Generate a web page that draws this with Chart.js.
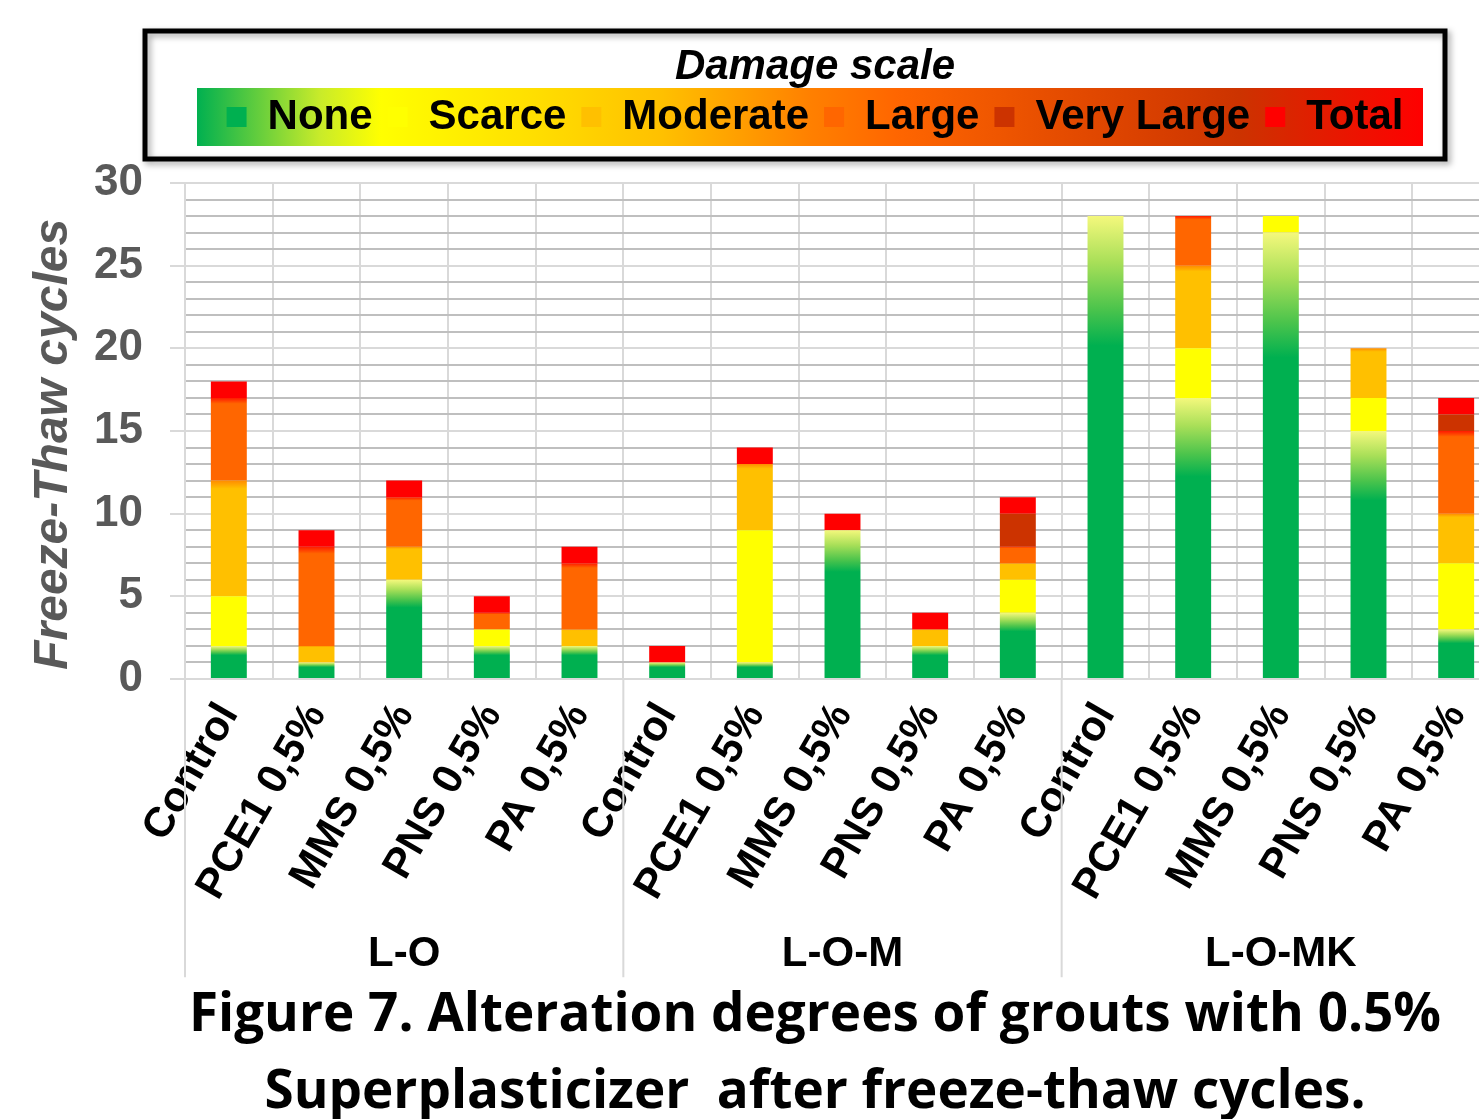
<!DOCTYPE html>
<html>
<head>
<meta charset="utf-8">
<script src="https://cdn.jsdelivr.net/npm/chart.js@4.4.1/dist/chart.umd.min.js"></script>
<style>
  html, body { margin: 0; padding: 0; background: #fff; overflow: hidden; }
  #wrap { position: relative; width: 1630px; height: 1130px; }
</style>
</head>
<body>
<div id="wrap"><canvas id="chart" width="1630" height="1130"></canvas></div>
<script>
// categories (5 grouts per mortar family)
const categories = [
  "Control", "PCE1 0,5%", "MMS 0,5%", "PNS 0,5%", "PA 0,5%",
  "Control", "PCE1 0,5%", "MMS 0,5%", "PNS 0,5%", "PA 0,5%",
  "Control", "PCE1 0,5%", "MMS 0,5%", "PNS 0,5%", "PA 0,5%"
];
const groups = ["L-O", "L-O-M", "L-O-MK"];
const yTicks = [0, 5, 10, 15, 20, 25, 30];

// cycles spent in each damage degree (stacked bottom -> top)
const none      = [2, 1, 6, 2, 2,  1, 1, 9, 2, 4,  28, 17, 27, 15, 3];
const scarce    = [3, 0, 0, 1, 0,  0, 8, 0, 0, 2,  0, 3, 1, 2, 4];
const moderate  = [7, 1, 2, 0, 1,  0, 4, 0, 1, 1,  0, 5, 0, 3, 3];
const large     = [5, 6, 3, 1, 4,  0, 0, 0, 0, 1,  0, 3, 0, 0, 5];
const veryLarge = [0, 0, 0, 0, 0,  0, 0, 0, 0, 2,  0, 0, 0, 0, 1];
const total     = [1, 1, 1, 1, 1,  1, 1, 1, 1, 1,  0, 0, 0, 0, 1];

const seriesNames = ["None", "Scarce", "Moderate", "Large", "Very Large", "Total"];
const seriesValues = [none, scarce, moderate, large, veryLarge, total];
const seriesColors = ["#00B050", "#FFFF00", "#FFC000", "#FF6600", "#CC3300", "#FF0000"];
// gradient inside each stacked piece, from its bottom (0) to its top (1)
const seriesStops = [
  [[0, "#00B050"], [0.72, "#00B050"], [0.8, "#4cc44c"], [0.9, "#a8df58"], [1, "#f4f87c"]],
  [[0, "#FFFF00"], [1, "#FFFF00"]],
  [[0, "#FFC000"], [0.93, "#FFC000"], [1, "#FF8C00"]],
  [[0, "#FF6600"], [0.93, "#FF6600"], [1, "#FF1A00"]],
  [[0, "#CC3300"], [1, "#CC3300"]],
  [[0, "#FF0000"], [1, "#FF0000"]]
];

Chart.defaults.font.family = '"Liberation Sans", Arial, sans-serif';

// builds a vertical gradient fitted to one stacked piece
const pieceFill = (k) => (ctx) => {
  const chart = ctx.chart;
  const yScale = chart.scales.y;
  if (!chart.chartArea || !yScale || ctx.type !== "data") return seriesColors[k];
  const i = ctx.dataIndex;
  let base = 0;
  for (let j = 0; j < k; j++) base += seriesValues[j][i];
  const top = base + seriesValues[k][i];
  const y0 = yScale.getPixelForValue(base);
  const y1 = yScale.getPixelForValue(top);
  if (Math.abs(y0 - y1) < 0.5) return seriesColors[k];
  const g = chart.ctx.createLinearGradient(0, y0, 0, y1);
  seriesStops[k].forEach(([t, c]) => g.addColorStop(t, c));
  return g;
};

// framed "Damage scale" box with the coloured band behind the legend
const legendFrame = {
  id: "legendFrame",
  beforeDraw(chart) {
    const c = chart.ctx;
    c.save();
    c.shadowColor = "rgba(0,0,0,0.35)";
    c.shadowBlur = 6;
    c.shadowOffsetX = 3;
    c.shadowOffsetY = 3;
    c.lineWidth = 5;
    c.strokeStyle = "#000";
    c.strokeRect(145, 31, 1300, 128);
    c.restore();
    const g = c.createLinearGradient(197, 0, 1423, 0);
    g.addColorStop(0, "#00b050");
    g.addColorStop(0.10, "#c8eb2a");
    g.addColorStop(0.15, "#ffff00");
    g.addColorStop(0.27, "#ffe000");
    g.addColorStop(0.38, "#ffc000");
    g.addColorStop(0.50, "#ff8000");
    g.addColorStop(0.57, "#ff6600");
    g.addColorStop(0.70, "#e64d00");
    g.addColorStop(0.85, "#cc3300");
    g.addColorStop(1, "#ff0000");
    c.fillStyle = g;
    c.fillRect(197, 88, 1226, 58);
  }
};

// vertical separators between the mortar groups on the category axis
const groupLines = {
  id: "groupLines",
  afterDraw(chart) {
    const x = chart.scales.x, x2 = chart.scales.x2;
    const per = categories.length / groups.length;
    const c = chart.ctx;
    c.save();
    c.strokeStyle = "#d9d9d9";
    c.lineWidth = 2;
    for (let g = 0; g <= groups.length; g++) {
      const idx = g * per;
      let px;
      if (idx === 0) px = x.left;
      else if (idx >= categories.length) px = x.right;
      else px = (x.getPixelForTick(idx - 1) + x.getPixelForTick(idx)) / 2;
      c.beginPath();
      c.moveTo(px, x.top);
      c.lineTo(px, x2.bottom + 5);
      c.stroke();
    }
    c.restore();
  }
};

new Chart(document.getElementById("chart"), {
  type: "bar",
  data: {
    labels: categories,
    datasets: seriesNames.map((name, k) => ({
      label: name,
      data: seriesValues[k],
      backgroundColor: pieceFill(k),
      borderWidth: 0,
      xAxisID: "x",
      yAxisID: "y",
      barPercentage: 0.41,
      categoryPercentage: 1
    }))
  },
  options: {
    responsive: false,
    animation: false,
    plugins: {
      tooltip: { enabled: false },
      legend: {
        position: "top",
        weight: 3000,
        labels: {
          boxWidth: 20,
          boxHeight: 20,
          padding: 15,
          color: "#000",
          font: { size: 42, weight: "bold" },
          generateLabels: () => seriesNames.map((name, k) => ({
            text: name,
            fillStyle: seriesColors[k],
            strokeStyle: seriesColors[k],
            lineWidth: 0,
            hidden: false,
            datasetIndex: k,
            fontColor: "#000"
          }))
        },
        title: {
          display: true,
          text: "Damage scale",
          color: "#000",
          font: { size: 42, weight: "bold", style: "italic", lineHeight: 1.2 },
          padding: { top: 46, bottom: -15.4 }
        }
      },
      subtitle: {
        display: true,
        text: "",
        font: { size: 1, lineHeight: 1 },
        padding: { top: 34, bottom: 0 }
      },
      title: {
        display: true,
        position: "bottom",
        text: ["Figure 7. Alteration degrees of grouts with 0.5%", "Superplasticizer  after freeze-thaw cycles."],
        color: "#000",
        font: { family: "'Open Sans', 'Noto Sans', sans-serif", size: 53, weight: "bold", lineHeight: 1.45 },
        padding: { top: 5, bottom: -1 }
      }
    },
    scales: {
      x: {
        stacked: true,
        position: "bottom",
        grid: { offset: true, color: "#d9d9d9", lineWidth: 2, drawTicks: false },
        border: { color: "#d9d9d9", width: 2 },
        ticks: {
          autoSkip: false,
          maxRotation: 60,
          minRotation: 60,
          padding: 16,
          color: "#000",
          font: { size: 42, weight: "bold" }
        },
        afterFit: (s) => { s.height = 230; }
      },
      x2: {
        type: "category",
        labels: groups,
        position: "bottom",
        offset: true,
        grid: { display: false, drawTicks: false },
        border: { display: false },
        ticks: { padding: 20, color: "#000", font: { size: 42, weight: "bold" } },
        afterFit: (s) => { s.height = 1130 - 4 - 2 * 53 * 1.45 - 909; }
      },
      y: {
        stacked: true,
        position: "left",
        min: yTicks[0],
        max: yTicks[yTicks.length - 1],
        ticks: {
          stepSize: 1,
          autoSkip: false,
          padding: 27,
          color: "#595959",
          font: { size: 44, weight: "bold" },
          callback: (v) => (yTicks.includes(v) ? v : "")
        },
        grid: {
          color: (c) => (c.tick && yTicks.includes(c.tick.value) ? "#d9d9d9" : "#bfbfbf"),
          lineWidth: 2,
          tickLength: 15,
          tickColor: (c) => (c.tick && yTicks.includes(c.tick.value) ? "#d9d9d9" : "rgba(0,0,0,0)")
        },
        border: { color: "#d9d9d9", width: 2 },
        title: {
          display: true,
          text: "Freeze-Thaw cycles  ",
          color: "#595959",
          font: { size: 48, weight: "bold", style: "italic", lineHeight: 1.2 },
          padding: { top: 25, bottom: 0 }
        },
        afterFit: (s) => { s.width = 185; }
      },
      yRight: {
        type: "linear",
        position: "right",
        display: true,
        grid: { display: false },
        border: { display: false },
        ticks: { display: false },
        afterFit: (s) => { s.width = 130; }
      }
    }
  },
  plugins: [legendFrame, groupLines]
});
</script>
</body>
</html>
